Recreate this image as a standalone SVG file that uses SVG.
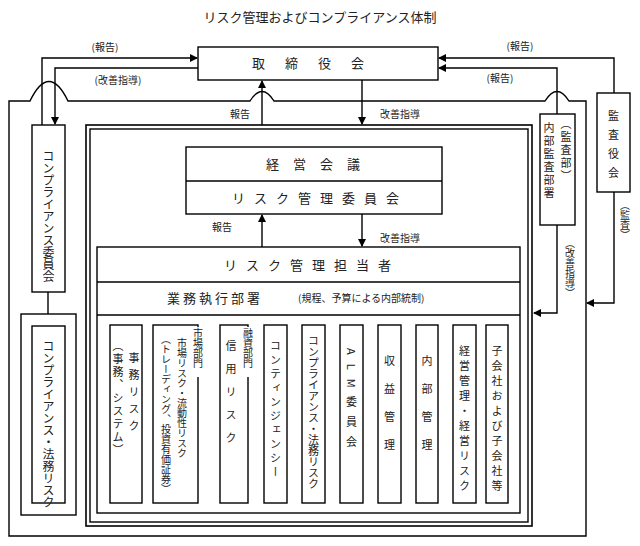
<svg xmlns="http://www.w3.org/2000/svg" width="640" height="546" viewBox="0 0 640 546">
<defs>
<marker id="ah" markerWidth="8" markerHeight="8" refX="7" refY="4" orient="auto" markerUnits="userSpaceOnUse"><path d="M0,0 L8,4 L0,8 Z" fill="#000"/></marker>
<style>
text{font-family:"Noto Sans CJK JP","Noto Sans CJK SC",sans-serif;fill:#222}
.b{fill:#fff;stroke:#000;stroke-width:1.4}
.l{fill:none;stroke:#000;stroke-width:1.4}
.t{font-size:13px;text-anchor:middle}
.s{font-size:10px;text-anchor:middle}
.v{font-size:11px;writing-mode:vertical-rl;text-anchor:start}
.vs{font-size:10px;writing-mode:vertical-rl;text-anchor:start}
</style>
</defs>
<rect width="640" height="546" fill="#fff"/>
<text x="320" y="22" class="t">リスク管理およびコンプライアンス体制</text>
<g id="connectors">
<path class="l" d="M9,536 V101 H30 Q49,62 68,101 H250 Q262,82 274,101 H545 Q557,82 569,101 H586 V536 Z"/>
<path class="l" d="M42,125 V58 H197" marker-end="url(#ah)"/>
<path class="l" d="M198,68 H55 V124" marker-end="url(#ah)"/>
<path class="l" d="M262,125 V81" marker-end="url(#ah)"/>
<path class="l" d="M362,80 V124" marker-end="url(#ah)"/>
<path class="l" d="M557,114 V68 H439" marker-end="url(#ah)"/>
<path class="l" d="M614,93 V58 H439" marker-end="url(#ah)"/>
<path class="l" d="M614,192 V303 H587" marker-end="url(#ah)"/>
<path class="l" d="M557,225 V313 H534" marker-end="url(#ah)"/>
<path class="l" d="M262,247 V215" marker-end="url(#ah)"/>
<path class="l" d="M362,214 V246" marker-end="url(#ah)"/>
<path class="l" d="M48,292 V314"/>
<text x="105" y="51" class="s">(報告)</text>
<text x="118" y="84" class="s">(改善指導)</text>
<text x="240" y="118" class="s">報告</text>
<text x="400" y="118" class="s">改善指導</text>
<text x="520" y="50" class="s">(報告)</text>
<text x="500" y="82" class="s">(報告)</text>
<text x="222" y="231" class="s">報告</text>
<text x="400" y="242" class="s">改善指導</text>
<text x="570" y="238" class="vs">（改善指導）</text>
<text x="625" y="200" class="vs">（監査）</text>
</g>
<g id="board"><rect class="b" x="198" y="47" width="240" height="33"/><text x="318" y="68" class="t" style="letter-spacing:20px">取締役会</text></g>
<g id="frame"><rect class="l" x="86" y="125" width="446" height="401" style="stroke-width:1.6"/><rect class="l" x="90" y="129" width="438" height="393"/></g>
<g id="keiei"><rect class="b" x="186" y="147" width="256" height="67"/><line class="l" x1="186" y1="181" x2="442" y2="181"/>
<text x="320" y="169" class="t" style="letter-spacing:14px">経営会議</text>
<text x="320" y="203" class="t" style="letter-spacing:9px">リスク管理委員会</text></g>
<g id="tanto"><rect class="b" x="97" y="247" width="423" height="266"/><line class="l" x1="97" y1="282" x2="520" y2="282"/><line class="l" x1="97" y1="315" x2="520" y2="315"/>
<text x="312" y="270" class="t" style="letter-spacing:9px">リスク管理担当者</text>
<text x="215" y="303" class="t" style="letter-spacing:3px">業務執行部署</text>
<text x="298" y="302" style="font-size:10px">(規程、予算による内部統制)</text></g>
<g id="cols">
<rect class="b" x="110" y="325" width="32" height="178"/><text x="134" y="352" class="v" style="letter-spacing:6px">事務リスク</text><text x="118" y="340" class="v" style="letter-spacing:2px">（事務、システム）</text>
<rect class="b" x="153" y="325" width="45" height="178"/><rect x="193" y="327" width="10" height="50" fill="#fff"/><text x="198" y="328" class="vs">市場部門</text><text x="182" y="338" class="vs">市場リスク・流動性リスク</text><text x="166" y="334" class="vs">（トレーディング、投資有価証券）</text>
<rect class="b" x="220" y="325" width="28" height="178"/><rect x="243" y="327" width="10" height="50" fill="#fff"/><text x="248" y="328" class="vs">融資部門</text><text x="231" y="340" class="v" style="letter-spacing:12px">信用リスク</text>
<rect class="b" x="264" y="325" width="23" height="178"/><text x="275.5" y="340" class="v" style="letter-spacing:3px">コンティンジェンシー</text>
<rect class="b" x="302" y="325" width="23" height="178"/><text x="313.5" y="335" class="v">コンプライアンス・法務リスク</text>
<rect class="b" x="340" y="325" width="23" height="178"/><text x="351.5" y="348" class="v" style="letter-spacing:9px">ALM委員会</text>
<rect class="b" x="378" y="325" width="23" height="178"/><text x="389.5" y="355" class="v" style="letter-spacing:17px">収益管理</text>
<rect class="b" x="416" y="325" width="22" height="178"/><text x="427" y="355" class="v" style="letter-spacing:17px">内部管理</text>
<rect class="b" x="453" y="325" width="23" height="178"/><text x="464.5" y="345" class="v" style="letter-spacing:4px">経営管理・経営リスク</text>
<rect class="b" x="486" y="325" width="22" height="178"/><text x="497" y="345" class="v" style="letter-spacing:4px">子会社および子会社等</text>
</g>
<g id="compliance-committee"><rect class="b" x="32" y="125" width="33" height="167"/><text x="48.5" y="150" class="v" style="font-size:12px">コンプライアンス委員会</text></g>
<g id="compliance-risk"><rect class="b" x="21" y="314" width="55" height="201"/><rect class="b" x="32" y="326" width="33" height="177"/><text x="48.5" y="340" class="v" style="font-size:12px">コンプライアンス・法務リスク</text></g>
<g id="naibu"><rect class="b" x="540" y="114" width="35" height="111"/><text x="549" y="122" class="v" style="letter-spacing:2px">内部監査部署</text><text x="566" y="118" class="v" style="letter-spacing:2px">（監査部）</text></g>
<g id="kansayaku"><rect class="b" x="597" y="93" width="33" height="99"/><text x="613.5" y="110" class="v" style="letter-spacing:8px">監査役会</text></g>
</svg>
